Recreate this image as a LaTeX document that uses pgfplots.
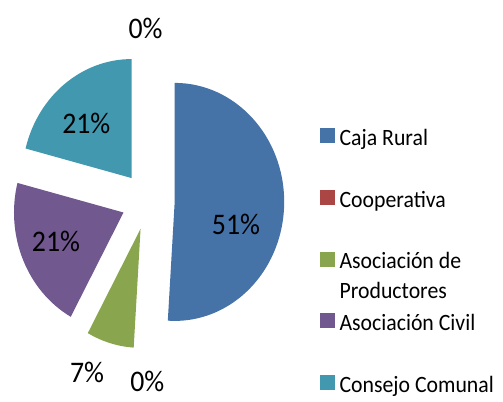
\documentclass[border=0pt]{standalone}
\usepackage{fontspec}
\setmainfont{Carlito}
\usepackage{graphicx}
\usepackage{pgfplots}
\pgfplotsset{compat=1.18}

\definecolor{cajarural}{HTML}{4572A7}
\definecolor{cooperativa}{HTML}{AA4643}
\definecolor{productores}{HTML}{89A54E}
\definecolor{civil}{HTML}{71588F}
\definecolor{comunal}{HTML}{4198AF}

% pie centre, radii and explosion (picture is slightly narrower than tall)
\def\ox{148}\def\oy{201}
\def\rx{109.5}\def\ry{119}
\def\ex{26.7}\def\ey{29}

\newcommand\lab[1]{\scalebox{0.93}[1]{#1}}

\begin{document}
\begin{tikzpicture}
\fill[white] (0,0) rectangle (503bp,402bp);
\begin{axis}[
    at={(0,0)}, anchor=south west,
    width=503bp, height=402bp, scale only axis,
    xmin=0, xmax=503, ymin=0, ymax=402,
    hide axis, clip=false,
    legend image code/.code={\fill[#1] (0bp,-5bp) rectangle (14bp,9bp);},
    legend cell align=left,
    legend style={
        at={(axis cs:320,274)}, anchor=north west,
        draw=none, fill=none, inner sep=0pt,
        font=\fontsize{23.5}{29.5}\selectfont,
        nodes={inner sep=0pt, text height=16bp, text depth=0bp},
        row sep=44.5bp, column sep=5bp,
    },
]
\addlegendimage{cajarural}
\addlegendentry{\lab{Caja Rural}}
\addlegendimage{cooperativa}
\addlegendentry{\lab{Cooperativa}}
\addlegendimage{productores}
\addlegendentry{\begin{tabular}[t]{@{}l@{}}\lab{Asociación de}\\\lab{Productores}\end{tabular}}
\addlegendimage{civil}
\addlegendentry{\lab{Asociación Civil}}
\addlegendimage{comunal}
\addlegendentry{\lab{Consejo Comunal}}

% slices, clockwise from 12 o'clock, values in percent
\pgfplotsextra{%
  \gdef\sa{90}%
  \foreach \v/\c in {51/cajarural, 0/cooperativa, 7/productores, 21/civil, 21/comunal, 0/cajarural}{%
    \pgfmathsetmacro\ea{\sa-3.6*\v}%
    \pgfmathsetmacro\ma{(\sa+\ea)/2}%
    \pgfmathsetmacro\cx{\ox+\ex*cos(\ma)}%
    \pgfmathsetmacro\cy{\oy+\ey*sin(\ma)}%
    \pgfmathsetmacro\px{\cx+\rx*cos(\sa)}%
    \pgfmathsetmacro\py{\cy+\ry*sin(\sa)}%
    \ifdim\v pt>0pt
      \fill[\c] (axis cs:\cx,\cy) -- (axis cs:\px,\py)
        arc[start angle=\sa, end angle=\ea, x radius=\rx bp, y radius=\ry bp] -- cycle;
    \fi
    \xdef\sa{\ea}%
  }%
}

% data labels
\begin{scope}[every node/.style={font=\fontsize{30}{36}\selectfont, text=black, inner sep=0pt}]
\node at (axis cs:236,177.5) {\lab{51\%}};
\node at (axis cs:86.3,278.7) {\lab{21\%}};
\node at (axis cs:56,161) {\lab{21\%}};
\node at (axis cs:87,30) {\lab{7\%}};
\node at (axis cs:147.3,21) {\lab{0\%}};
\node at (axis cs:145.5,374) {\lab{0\%}};
\end{scope}
\end{axis}
\pgfresetboundingbox
\path[use as bounding box] (0,0) rectangle (503bp,402bp);
\end{tikzpicture}
\end{document}
